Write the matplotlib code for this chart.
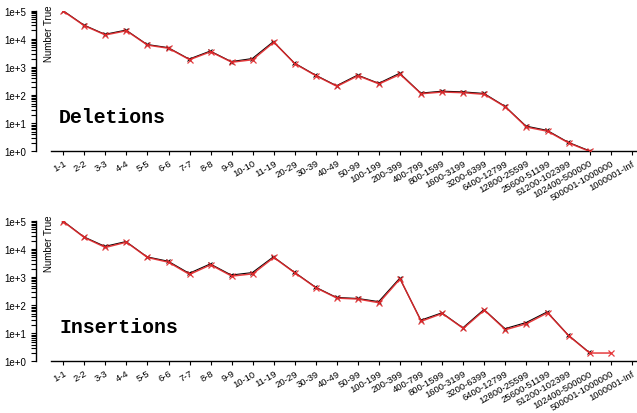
import numpy as np
import matplotlib
import matplotlib.pyplot as plt
import matplotlib.transforms as mtransforms
from matplotlib.ticker import LogLocator, FixedLocator, NullFormatter

matplotlib.use("Agg")

size_bins = [
    "1-1", "2-2", "3-3", "4-4", "5-5", "6-6", "7-7", "8-8", "9-9", "10-10",
    "11-19", "20-29", "30-39", "40-49", "50-99", "100-199", "200-399",
    "400-799", "800-1599", "1600-3199", "3200-6399", "6400-12799",
    "12800-25599", "25600-51199", "51200-102399", "102400-500000",
    "500001-1000000", "1000001-Inf",
]

deletions_total = [
    97000, 29500, 13800, 19500, 6000, 4650, 1820, 3500, 1480, 1820,
    7600, 1310, 490, 205, 490, 250, 550, 112, 129, 122,
    107, 38, 7.3, 5.2, 2, 1, None, None,
]
deletions_true = [
    97000, 29500, 13800, 19500, 6000, 4650, 1820, 3500, 1480, 1900,
    7600, 1310, 490, 205, 490, 250, 570, 112, 131, 124,
    109, 38, 7.5, 5.3, 2, 1, None, None,
]

insertions_total = [
    95000, 25700, 11400, 17500, 5000, 3400, 1250, 2750, 1090, 1310,
    5000, 1420, 420, 180, 166, 123, 870, 27, 51, 15,
    67, 13.5, 22, 54, 8.3, 2, 2, None,
]
insertions_true = [
    95000, 25700, 11800, 17500, 5000, 3500, 1300, 2800, 1130, 1380,
    5000, 1420, 420, 180, 166, 128, 870, 28, 51, 15,
    67, 14, 23, 55, 8.3, 2, None, None,
]

panels = [
    ("Deletions", deletions_total, deletions_true, 0.632),
    ("Insertions", insertions_total, insertions_true, 0.1244),
]

fig = plt.figure(figsize=(6.37, 4.14), dpi=100)
plt.rcParams["font.family"] = "Liberation Sans"

x = np.arange(len(size_bins))

for title, total, true, bottom in panels:
    ax = fig.add_axes([0.0801, bottom, 0.9199, 0.3396])
    tot = np.array([np.nan if v is None else v for v in total], dtype=float)
    tr = np.array([np.nan if v is None else v for v in true], dtype=float)

    # black series sits a hair up-left of the red one so its edge shows
    shifted = mtransforms.offset_copy(ax.transData, fig=fig, x=-0.3, y=0.45,
                                      units="points")
    ax.plot(x, tr, color="black", lw=0.8, marker="x", ms=3, mew=0.7,
            transform=shifted, zorder=3)
    ax.plot(x, tot, color="#e3282b", lw=1.1, alpha=0.9, marker="x", ms=4,
            mew=0.9, zorder=4)

    ax.set_yscale("log")
    ax.set_ylim(1, 1e5)
    ax.set_xlim(-0.58, 27.25)

    ax.spines["top"].set_visible(False)
    ax.spines["right"].set_visible(False)
    ax.spines["left"].set_position(("outward", 11))
    ax.spines["left"].set_linewidth(1.0)
    ax.spines["bottom"].set_linewidth(1.0)

    ax.yaxis.set_major_locator(FixedLocator([1e0, 1e1, 1e2, 1e3, 1e4, 1e5]))
    ax.set_yticklabels(["1e+0", "1e+1", "1e+2", "1e+3", "1e+4", "1e+5"])
    ax.yaxis.set_minor_locator(LogLocator(base=10, subs=np.arange(2, 10)))
    ax.yaxis.set_minor_formatter(NullFormatter())
    ax.tick_params(axis="y", which="both", length=3.6, width=0.8,
                   labelsize=7, pad=3.5)

    ax.set_xticks(x)
    ax.set_xticklabels(size_bins, rotation=30, ha="right",
                       rotation_mode="anchor", fontsize=6.8)
    ax.tick_params(axis="x", length=3, width=0.8, pad=2)

    ax.text(-0.003, 1.048, "Number True", transform=ax.transAxes,
            rotation=90, ha="center", va="top", fontsize=7)
    ax.text(0.014, 0.25, title, transform=ax.transAxes, ha="left",
            va="center", fontsize=14.3, fontweight="bold",
            family="Liberation Mono")

fig.savefig("out.png", dpi=100)
